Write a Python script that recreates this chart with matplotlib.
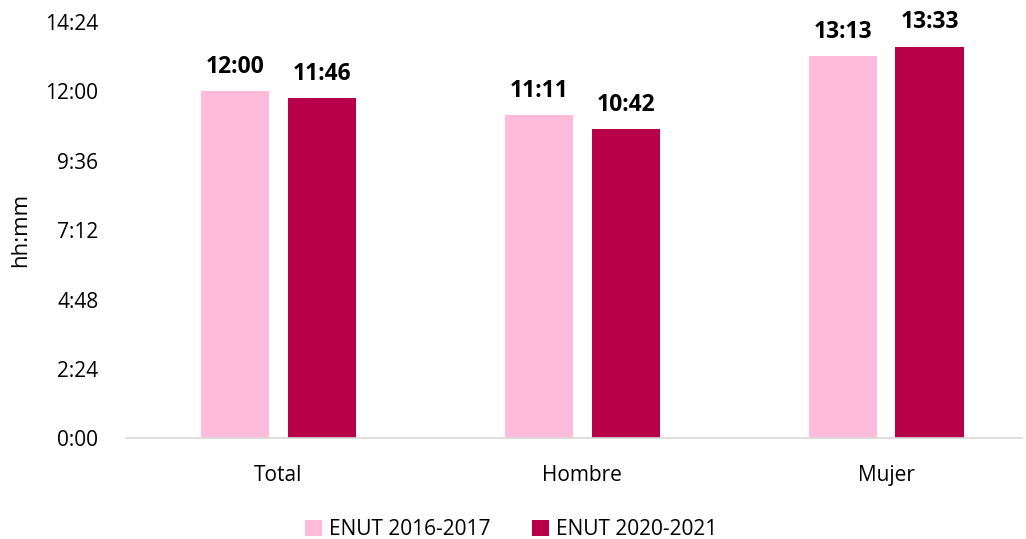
import numpy as np
import matplotlib.pyplot as plt
from matplotlib.ticker import FixedLocator

plt.rcParams['font.family'] = ['Open Sans', 'DejaVu Sans']

categories = ['Total', 'Hombre', 'Mujer']
series_names = ['ENUT 2016-2017', 'ENUT 2020-2021']
labels_2016 = ['12:00', '11:11', '13:13']
labels_2020 = ['11:46', '10:42', '13:33']
yticks = ['0:00', '2:24', '4:48', '7:12', '9:36', '12:00', '14:24']


def to_hours(s):
    h, m = s.split(':')
    return int(h) + int(m) / 60


vals_2016 = [to_hours(s) for s in labels_2016]
vals_2020 = [to_hours(s) for s in labels_2020]
colors = ['#FFBBD9', '#B8004A']

fig = plt.figure(figsize=(10.26, 5.39), dpi=100)
ax = fig.add_axes([0.123, 0.187, 0.873, 0.772])

x = np.arange(len(categories))
w = 0.224
off = 0.143
b1 = ax.bar(x - off, vals_2016, w, color=colors[0], label=series_names[0])
b2 = ax.bar(x + off, vals_2020, w, color=colors[1], label=series_names[1])

for bars, labs in ((b1, labels_2016), (b2, labels_2020)):
    for b, t in zip(bars, labs):
        ax.annotate(t, (b.get_x() + b.get_width() / 2, b.get_height()),
                    xytext=(0, 9), textcoords='offset points',
                    ha='center', va='bottom', fontsize=16.5, fontweight='bold')

ax.set_xlim(-0.5, 2.447)
ax.set_ylim(0, 14.4)
ax.yaxis.set_major_locator(FixedLocator([to_hours(s) for s in yticks]))
ax.set_yticklabels(yticks)
ax.set_xticks(x)
ax.set_xticklabels(categories)
ax.tick_params(length=0, labelsize=15, colors='#000000', pad=20)
ax.tick_params(axis='x', pad=19)
for s in ['top', 'right', 'left']:
    ax.spines[s].set_visible(False)
ax.spines['bottom'].set_color('#D9D9D9')
ax.spines['bottom'].set_linewidth(1.2)
ax.set_ylabel('hh:mm', fontsize=16, labelpad=10)

ax.legend(loc='lower center', bbox_to_anchor=(0.43, -0.29), ncol=2, frameon=False,
          fontsize=15, handlelength=0.8, handleheight=0.8, handletextpad=0.35,
          columnspacing=2.0)

fig.savefig('out.png', dpi=100)
